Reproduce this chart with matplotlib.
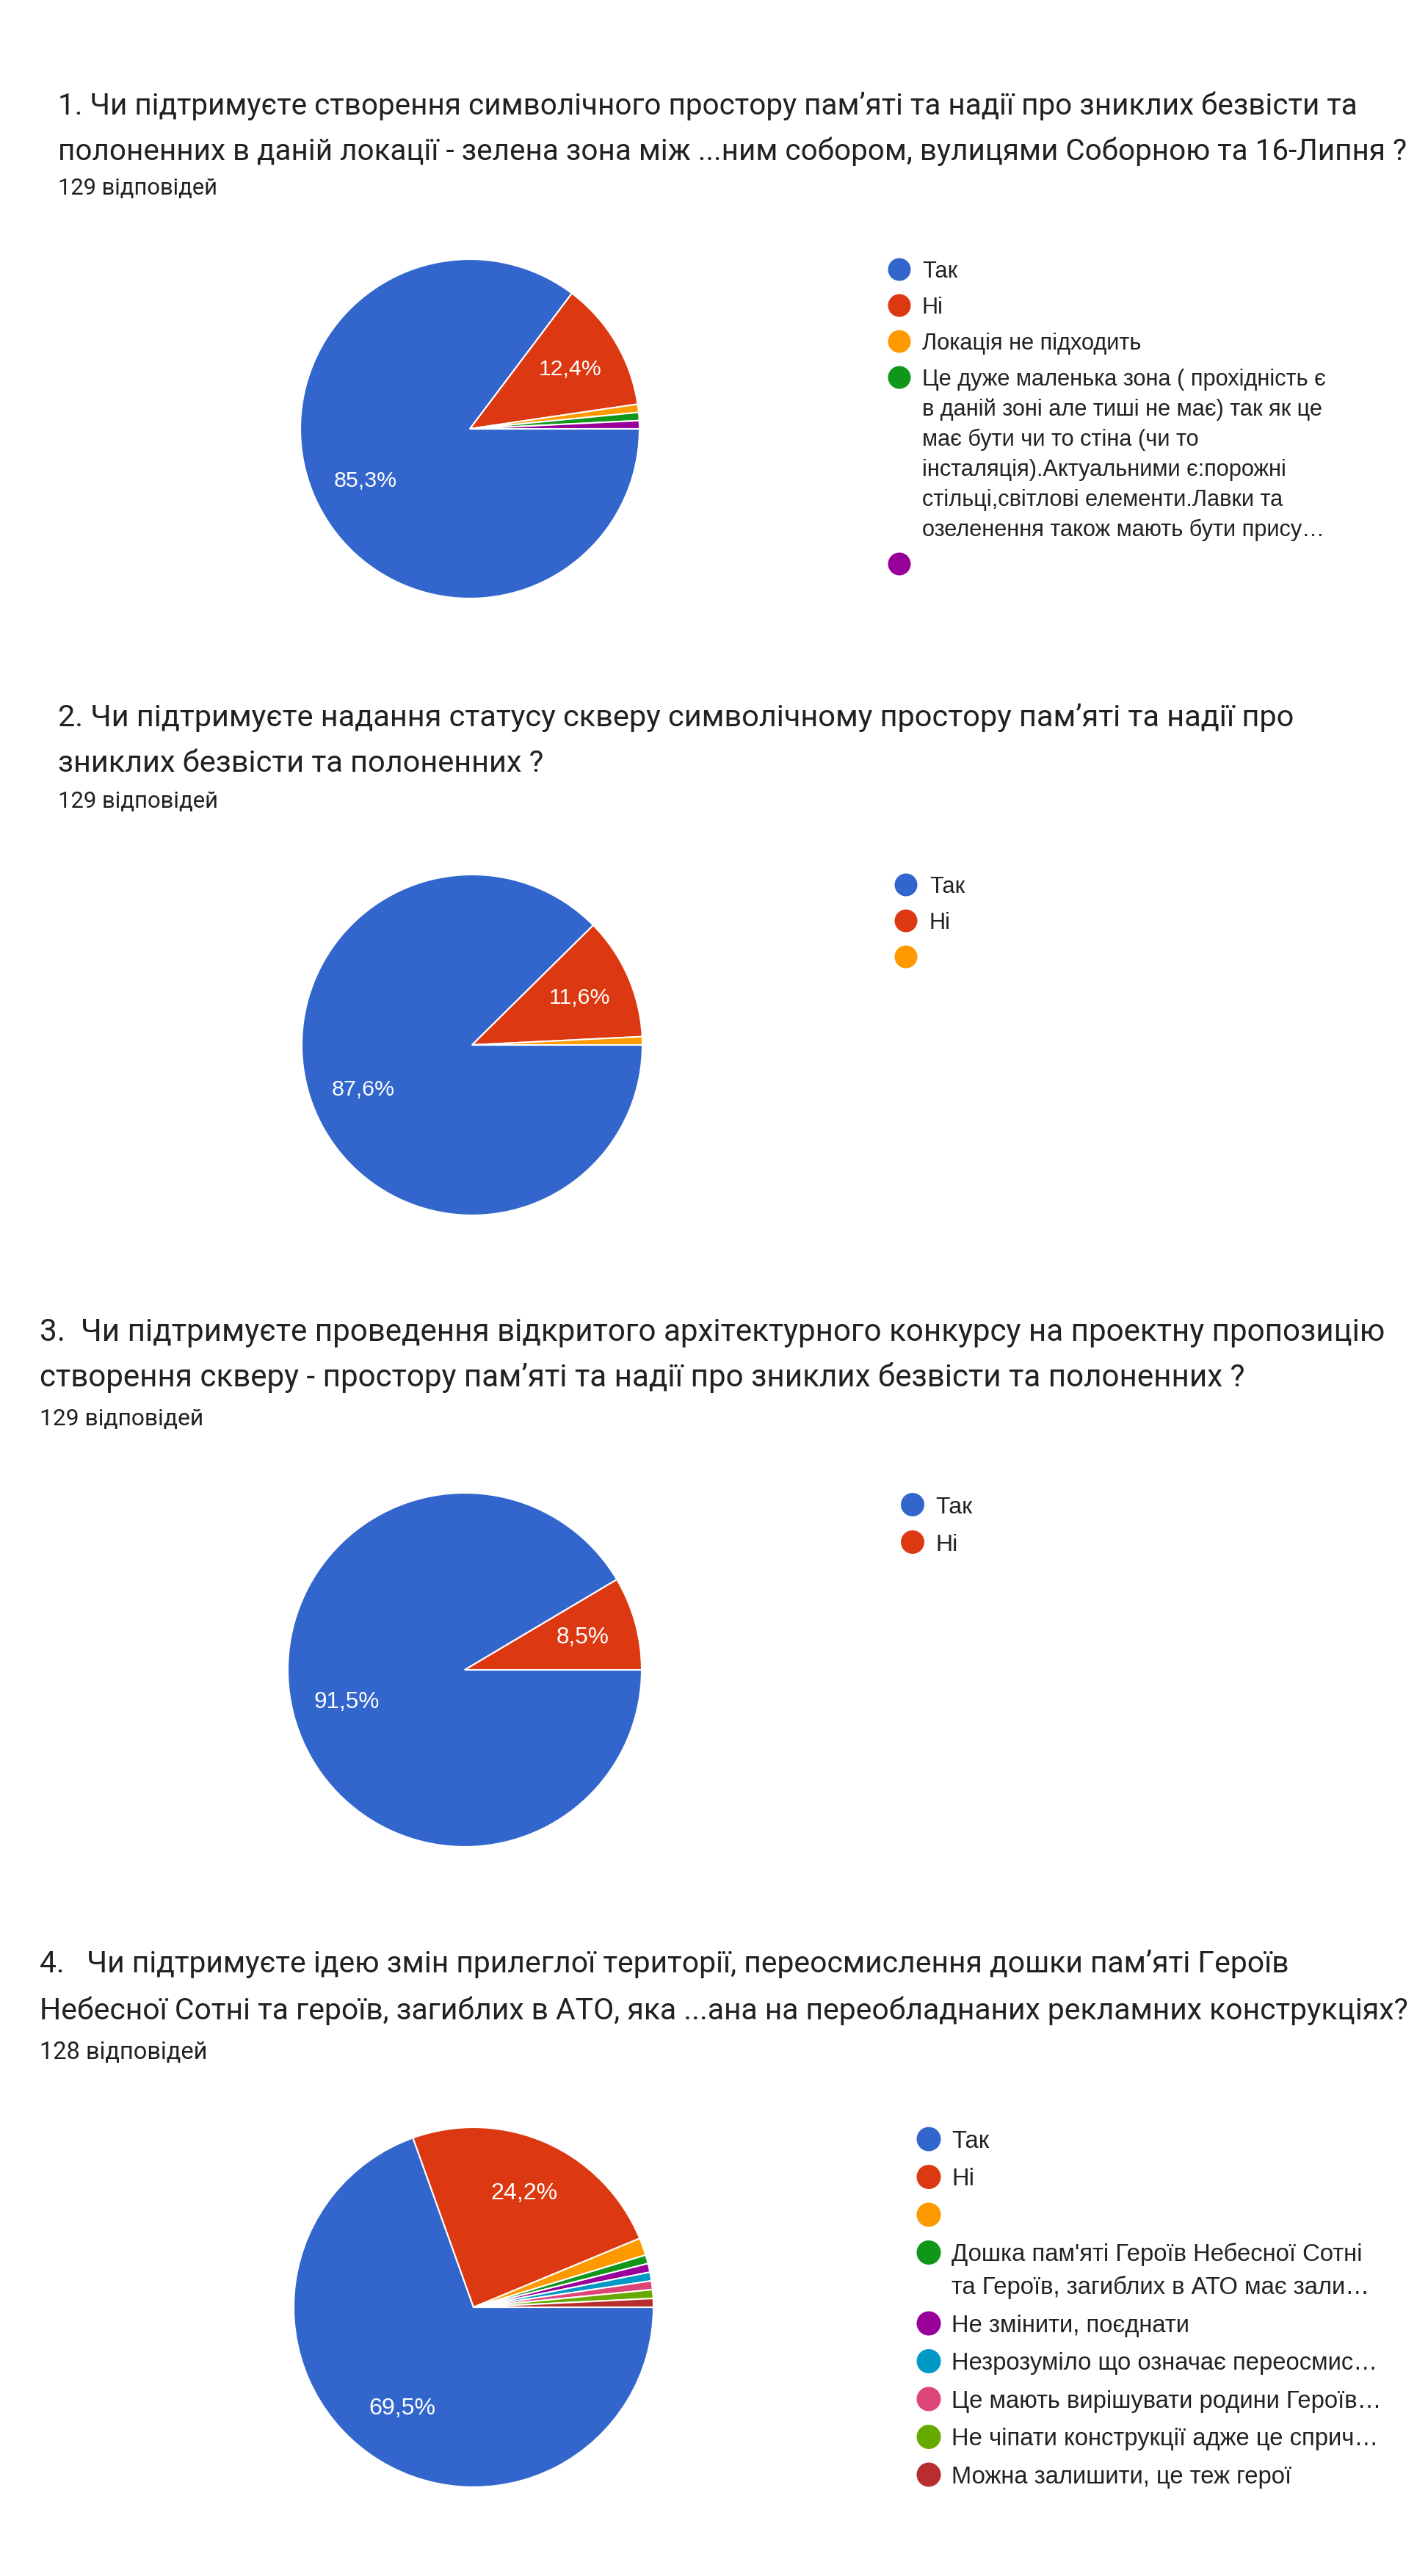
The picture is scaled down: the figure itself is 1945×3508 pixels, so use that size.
import matplotlib
matplotlib.use("Agg")
import matplotlib.pyplot as plt
from matplotlib.patches import Circle

# ---------------- data ----------------
PALETTE = ["#3366cc", "#dc3912", "#ff9900", "#109618", "#990099",
           "#0099c6", "#dd4477", "#66aa00", "#b82e2e"]

q1_title = ["1. Чи підтримуєте створення символічного простору пам’яті та надії про зниклих безвісти та",
            "полоненних в даній локації - зелена зона між ...ним собором, вулицями Соборною та 16-Липня ?"]
q1_count_text = "129 відповідей"
q1_labels = ["Так", "Ні", "Локація не підходить",
             "Це дуже маленька зона ( прохідність є\nв даній зоні але тиші не має) так як це\nмає бути чи то стіна (чи то\nінсталяція).Актуальними є:порожні\nстільці,світлові елементи.Лавки та\nозеленення також мають бути прису…",
             ""]
q1_counts = [110, 16, 1, 1, 1]

q2_title = ["2. Чи підтримуєте надання статусу скверу символічному простору пам’яті та надії про",
            "зниклих безвісти та полоненних ?"]
q2_count_text = "129 відповідей"
q2_labels = ["Так", "Ні", ""]
q2_counts = [113, 15, 1]

q3_title = ["3.  Чи підтримуєте проведення відкритого архітектурного конкурсу на проектну пропозицію",
            "створення скверу - простору пам’яті та надії про зниклих безвісти та полоненних ?"]
q3_count_text = "129 відповідей"
q3_labels = ["Так", "Ні"]
q3_counts = [118, 11]

q4_title = ["4.   Чи підтримуєте ідею змін прилеглої території, переосмислення дошки пам’яті Героїв",
            "Небесної Сотні та героїв, загиблих в АТО, яка ...ана на переобладнаних рекламних конструкціях?"]
q4_count_text = "128 відповідей"
q4_labels = ["Так", "Ні", "",
             "Дошка пам'яті Героїв Небесної Сотні\nта Героїв, загиблих в АТО має зали…",
             "Не змінити, поєднати",
             "Незрозуміло що означає переосмис…",
             "Це мають вирішувати родини Героїв…",
             "Не чіпати конструкції адже це сприч…",
             "Можна залишити, це теж герої"]
q4_counts = [89, 31, 2, 1, 1, 1, 1, 1, 1]

# ---------------- figure ----------------
W, H = 1945, 3508
fig = plt.figure(figsize=(W / 100, H / 100), dpi=100)
fig.patch.set_facecolor("white")
bg = fig.add_axes([0, 0, 1, 1])
bg.set_xlim(0, W)
bg.set_ylim(H, 0)
bg.axis("off")
renderer = fig.canvas.get_renderer()

TITLE_FONT = ["Roboto", "DejaVu Sans"]
LEG_FONT = ["Liberation Sans", "DejaVu Sans"]


def fit(text, family, target):
    t = fig.text(0, 0, text, fontsize=20, family=family)
    w = t.get_window_extent(renderer).width
    t.remove()
    return 20 * target / w


def px(fs):
    return fs * 100 / 72


base_leg = fit("Локація не підходить", LEG_FONT, 299)
base_pct = fit("85,3%", LEG_FONT, 86)

sections = [
    dict(title=q1_title, count=q1_count_text, labels=q1_labels, counts=q1_counts,
         tx=79, ty=[141, 203], cty=254, fit_line=0, title_w=1766, count_w=217,
         cx=640, cy=584, r=231, lx=1225, ltx=1256, ly0=367, lstep=49, lwrap=41,
         dot=15.5, leg=base_leg, pct=base_pct),
    dict(title=q2_title, count=q2_count_text, labels=q2_labels, counts=q2_counts,
         tx=79, ty=[974, 1036], cty=1089, fit_line=0, title_w=1683, count_w=218,
         cx=643, cy=1423, r=232, lx=1234, ltx=1266, ly0=1205, lstep=49, lwrap=41,
         dot=15.5, leg=base_leg, pct=base_pct),
    dict(title=q3_title, count=q3_count_text, labels=q3_labels, counts=q3_counts,
         tx=54, ty=[1811, 1873], cty=1930, fit_line=0, title_w=1829, count_w=223,
         cx=633, cy=2274, r=241, lx=1243, ltx=1274, ly0=2049, lstep=51, lwrap=43,
         dot=16, leg=base_leg * 1.04, pct=base_pct * 1.04),
    dict(title=q4_title, count=q4_count_text, labels=q4_labels, counts=q4_counts,
         tx=54, ty=[2671, 2735], cty=2792, fit_line=1, title_w=1866, count_w=228,
         cx=645, cy=3142, r=245, lx=1265, ltx=1296, ly0=2913, lstep=51.5, lwrap=45,
         dot=16.5, leg=fit("Не змінити, поєднати", LEG_FONT, 323), pct=fit("24,2%", LEG_FONT, 91)),
]

for s in sections:
    # title
    tfs = fit(s["title"][s["fit_line"]], TITLE_FONT, s["title_w"])
    for line, y in zip(s["title"], s["ty"]):
        bg.text(s["tx"], y + 0.36 * px(tfs), line, fontsize=tfs, family=TITLE_FONT,
                color="#202124", va="baseline", ha="left")
    cfs = fit(s["count"], TITLE_FONT, s["count_w"])
    bg.text(s["tx"], s["cty"] + 0.36 * px(cfs), s["count"], fontsize=cfs,
            family=TITLE_FONT, color="#202124", va="baseline", ha="left")

    # pie
    r = s["r"] * 1.02
    ax = fig.add_axes([(s["cx"] - r) / W, 1 - (s["cy"] + r) / H, 2 * r / W, 2 * r / H])
    colors = PALETTE[:len(s["counts"])]

    def fmt(p):
        return (f"{p:.1f}".replace(".", ",") + "%") if p >= 5 else ""

    ax.pie(s["counts"], colors=colors, startangle=0, counterclock=False, radius=1,
           autopct=fmt, pctdistance=0.69,
           wedgeprops=dict(edgecolor="white", linewidth=1.5),
           textprops=dict(color="white", family=LEG_FONT, fontsize=s["pct"]))
    ax.set_xlim(-1.02, 1.02)
    ax.set_ylim(-1.02, 1.02)
    ax.set_aspect("equal")
    ax.axis("off")

    # legend
    y = s["ly0"]
    lfs = s["leg"]
    for lab, col in zip(s["labels"], colors):
        bg.add_patch(Circle((s["lx"], y), s["dot"], color=col, lw=0))
        lines = lab.split("\n")
        for i, ln in enumerate(lines):
            bg.text(s["ltx"], y + i * s["lwrap"] + 0.36 * px(lfs), ln, fontsize=lfs,
                    family=LEG_FONT, color="#222222", va="baseline", ha="left")
        y += (len(lines) - 1) * s["lwrap"] + s["lstep"]

fig.savefig("out.png", dpi=100, facecolor="white")
